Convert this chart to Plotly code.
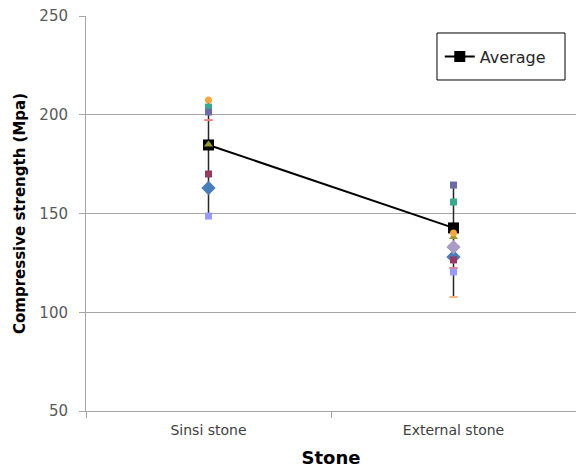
import plotly.graph_objects as go

categories = ["Sinsi stone", "External stone"]
average = [184.7, 142.7]

# individual specimen series (value per category, None where absent)
s1_blue_diamond = [162.9, 128.0]
s2_crimson_square = [170.0, 126.5]
s3_olive_triangle = [185.0, 138.1]
s4_lavender_diamond = [None, 133.0]
s5_teal_square = [203.9, 155.8]
s6_orange_circle = [207.5, 140.1]
s7_pink_dash = [197.3, 122.4]
s8_periwinkle_square = [148.7, 120.4]
s9_purple_square = [201.4, 164.4]
s10_orange_dash = [None, 107.7]

series = [
    (s1_blue_diamond, "diamond", 11, "#4A7EBB"),
    (s2_crimson_square, "square", 7, "#953B62"),
    (s3_olive_triangle, "triangle-up", 8, "#9A9A30"),
    (s4_lavender_diamond, "diamond", 11, "#A89CC4"),
    (s5_teal_square, "square", 7, "#3AAA8E"),
    (s6_orange_circle, "circle", 7, "#F7A541"),
    (s7_pink_dash, "line-ew", 6, "#F08080"),
    (s8_periwinkle_square, "square", 7, "#9999FF"),
    (s9_purple_square, "square", 7, "#6B6BA8"),
    (s10_orange_dash, "line-ew", 6, "#F9B67F"),
]

all_vals = [[s[0][i] for s in series if s[0][i] is not None] for i in range(2)]
mins = [min(v) for v in all_vals]
maxs = [max(v) for v in all_vals]

fig = go.Figure()

# range lines (min to max) drawn behind
fig.add_trace(go.Scatter(
    x=categories, y=average, mode="markers",
    marker=dict(size=1, color="rgba(0,0,0,0)"),
    error_y=dict(type="data", symmetric=False,
                 array=[maxs[i] - average[i] for i in range(2)],
                 arrayminus=[average[i] - mins[i] for i in range(2)],
                 color="#262626", thickness=1.5, width=0),
    showlegend=False, hoverinfo="skip"))

fig.add_trace(go.Scatter(
    x=categories, y=average, mode="lines+markers", name="Average",
    line=dict(color="black", width=2),
    marker=dict(symbol="square", size=11, color="black"),
    showlegend=True))

for vals, sym, size, col in series:
    mk = dict(symbol=sym, size=size, color=col)
    if sym.startswith("line"):
        mk["line"] = dict(color=col, width=2)
    fig.add_trace(go.Scatter(x=categories, y=vals, mode="markers",
                             marker=mk, showlegend=False))

fig.add_shape(type="rect", xref="paper", yref="paper",
              x0=0.7163, x1=0.9776, y0=0.838, y1=0.957,
              line=dict(color="black", width=1), fillcolor="white", layer="below")

fig.update_layout(
    width=576, height=469,
    margin=dict(l=86, r=0, t=16, b=58),
    paper_bgcolor="white", plot_bgcolor="white",
    font=dict(family="DejaVu Sans", color="#404040"),
    legend=dict(x=0.722, y=0.897, xanchor="left", yanchor="middle",
                borderwidth=0, bgcolor="rgba(0,0,0,0)",
                font=dict(size=16, color="#262626"),
                itemwidth=30),
)
fig.update_yaxes(range=[50, 250], tickvals=[50, 100, 150, 200, 250],
                 automargin=False,
                 showgrid=True, gridcolor="#A6A6A6", gridwidth=1,
                 showline=True, linecolor="#A6A6A6", linewidth=1,
                 ticks="outside", ticklen=6, tickcolor="#A6A6A6",
                 ticklabelstandoff=8,
                 tickfont=dict(size=15, color="#595959"),
                 zeroline=False,
                 title=dict(text="<b>Compressive strength (Mpa)</b>",
                            font=dict(size=15, color="black"), standoff=10))
fig.update_xaxes(type="category", tickson="boundaries", range=[-0.5, 1.5],
                 automargin=False,
                 showline=True, linecolor="#A6A6A6", linewidth=1,
                 ticks="outside", ticklen=6, tickcolor="#A6A6A6",
                 ticklabelstandoff=6,
                 showgrid=False,
                 tickfont=dict(size=14, color="#404040"),
                 title=dict(text="<b>Stone</b>", font=dict(size=18, color="black"),
                            standoff=14))

fig.write_html("out.html", config={"displayModeBar": False},
               post_script="document.body.style.margin='0';")
